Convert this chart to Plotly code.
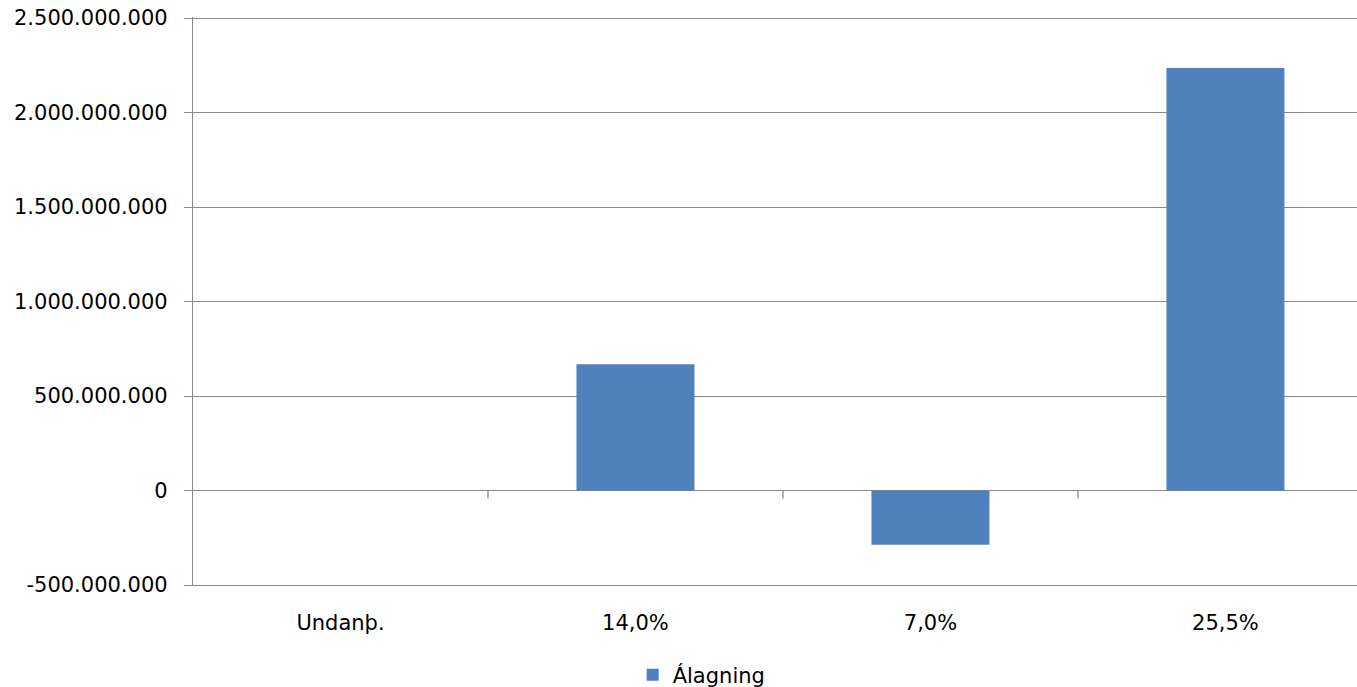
import plotly.graph_objects as go

categories = ["Undanþ.", "14,0%", "7,0%", "25,5%"]
values = [0, 668_000_000, -287_000_000, 2_236_000_000]
series_name = "Álagning"
y_ticks = [-500_000_000, 0, 500_000_000, 1_000_000_000, 1_500_000_000, 2_000_000_000, 2_500_000_000]
y_tick_labels = ["-500.000.000", "0", "500.000.000", "1.000.000.000", "1.500.000.000", "2.000.000.000", "2.500.000.000"]

GRID = "#8a8a8a"
FONT = "DejaVu Sans"

fig = go.Figure()
fig.add_trace(go.Bar(
    x=list(range(len(categories))),
    y=values,
    name=series_name,
    width=0.4,
    marker=dict(color="#4F81BD", line=dict(width=0)),
    showlegend=True,
))

# category tick marks sitting on the zero line (Excel style)
shapes = []
for k in range(len(categories) - 1):
    shapes.append(dict(
        type="line", xref="x", yref="y",
        x0=k + 0.5, x1=k + 0.5,
        ysizemode="pixel", yanchor=0, y0=0, y1=-8,
        line=dict(color=GRID, width=1.3),
        layer="below",
    ))

fig.update_layout(
    width=1357, height=687,
    margin=dict(l=193, r=0, t=17, b=102, autoexpand=False),
    paper_bgcolor="white", plot_bgcolor="white",
    font=dict(family=FONT, size=21, color="#000000"),
    bargap=0.6,
    shapes=shapes,
    showlegend=True,
    legend=dict(
        orientation="h", x=0.437, xanchor="center",
        yref="container", y=0.0175, yanchor="middle",
        font=dict(family=FONT, size=21, color="#000000"),
        itemwidth=30,
    ),
    xaxis=dict(
        tickmode="array",
        tickvals=list(range(len(categories))),
        ticktext=categories,
        range=[-0.5, 3.446],
        showgrid=False, zeroline=False,
        showline=True, linecolor=GRID, linewidth=1.3,
        ticks="",
        ticklabelstandoff=19,
        tickfont=dict(family=FONT, size=21, color="#000000"),
    ),
    yaxis=dict(
        range=[-500_000_000, 2_506_000_000],
        tickmode="array",
        tickvals=y_ticks,
        ticktext=y_tick_labels,
        showgrid=True, gridcolor=GRID, gridwidth=1.3,
        zeroline=True, zerolinecolor=GRID, zerolinewidth=1.3,
        showline=True, linecolor=GRID, linewidth=1.3,
        ticks="outside", ticklen=8, tickcolor=GRID, tickwidth=1.3,
        ticklabelstandoff=12,
        ticklabeloverflow="allow",
        tickfont=dict(family=FONT, size=21, color="#000000"),
    ),
)

fig.write_html("out.html", config={"displayModeBar": False},
               post_script="document.body.style.margin='0';")
